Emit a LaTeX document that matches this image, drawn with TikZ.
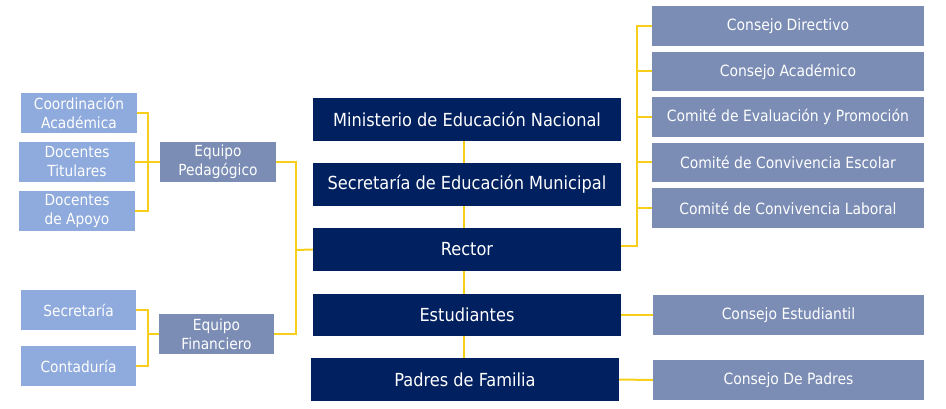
\documentclass[tikz,border=0pt]{standalone}
\usepackage{fontspec}
\setmainfont{DejaVu Sans Condensed}
\definecolor{navy}{HTML}{002060}
\definecolor{lightb}{HTML}{8FAADC}
\definecolor{midb}{HTML}{7B8DB5}
\definecolor{gold}{HTML}{F7CF1A}
\tikzset{
  box/.style={inner sep=0pt, align=center, text=white, anchor=center},
  lbox/.style={box, fill=lightb, minimum width=116pt, minimum height=40pt, font=\fontsize{15.3}{19}\selectfont},
  mbox/.style={box, fill=midb, minimum width=116pt, minimum height=40pt, font=\fontsize{15.3}{19}\selectfont},
  rbox/.style={box, fill=midb, minimum width=272pt, minimum height=40pt, font=\fontsize{15.5}{18}\selectfont},
  cbox/.style={box, fill=navy, minimum width=308pt, minimum height=43pt, font=\fontsize{18}{21}\selectfont},
  link/.style={draw=gold, line width=2pt}
}
\begin{document}
\begin{tikzpicture}[x=1pt,y=-1pt]
\useasboundingbox (0,0) rectangle (946,409);
% left column
\node[lbox] (ca) at (79,113) {Coordinación\\Académica};
\node[lbox] (dt) at (77,162) {Docentes\\Titulares};
\node[lbox] (da) at (77,211) {Docentes\\de Apoyo};
\node[mbox] (ep) at (218,162) {Equipo\\Pedagógico};
\node[lbox,minimum width=115pt] (se) at (78.5,310) {Secretaría};
\node[lbox,minimum width=115pt] (co) at (78.5,366) {Contaduría};
\node[mbox,minimum width=115pt] (ef) at (216.5,334) {Equipo\\Financiero};
% centre column
\node[cbox] (min) at (467,119.5) {Ministerio de Educación Nacional};
\node[cbox] (sem) at (467,184.5) {Secretaría de Educación Municipal};
\node[cbox] (rec) at (467,249.5) {Rector};
\node[cbox,minimum height=42pt] (est) at (467,315) {Estudiantes};
\node[cbox] (pad) at (465,379.5) {Padres de Familia};
% right column
\node[rbox] (cd) at (788,26) {Consejo Directivo};
\node[rbox,minimum height=39pt] (cac) at (788,71.5) {Consejo Académico};
\node[rbox] (cep) at (788,117) {Comité de Evaluación y Promoción};
\node[rbox,minimum height=39pt] (cce) at (788,162.5) {Comité de Convivencia Escolar};
\node[rbox] (ccl) at (788,208) {Comité de Convivencia Laboral};
\node[rbox,minimum width=271pt] (ces) at (788.5,315) {Consejo Estudiantil};
\node[rbox,minimum width=271pt] (cdp) at (788.5,380) {Consejo De Padres};
% junction points
\coordinate (bl) at (148,162);
\coordinate (bf) at (148,334);
\coordinate (bm) at (296,250);
\coordinate (br) at (637,246);
% connectors
\draw[link] (ca.east) -| (bl) |- (da.east);
\draw[link] (dt.east) -- (ep.west);
\draw[link] (se.east) -| (bf) |- (co.east);
\draw[link] (bf) -- (ef.west);
\draw[link] (ep.east) -| (bm) |- (ef.east);
\draw[link] (bm) -- (rec.west);
\draw[link] (cd.west) -| (br) -- (rec.east |- br);
\draw[link] (br |- cac.west) -- (cac.west);
\draw[link] (br |- cep.west) -- (cep.west);
\draw[link] (br |- cce.west) -- (cce.west);
\draw[link] (br |- ccl.west) -- (ccl.west);
\draw[link] ([xshift=-3pt]min.south) -- ([xshift=-3pt]sem.north);
\draw[link] ([xshift=-3pt]sem.south) -- ([xshift=-3pt]rec.north);
\draw[link] ([xshift=-3pt]rec.south) -- ([xshift=-3pt]est.north);
\draw[link] ([xshift=-3pt]est.south) -- ([xshift=-1pt]pad.north);
\draw[link] (est.east) -- (ces.west);
\draw[link] (pad.east) -- (cdp.west);
\end{tikzpicture}
\end{document}
